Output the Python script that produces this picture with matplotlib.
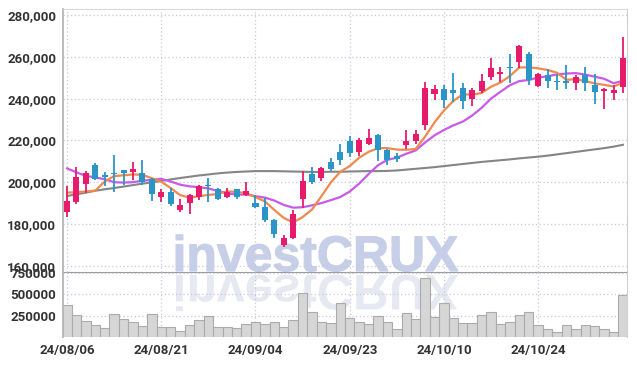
import matplotlib
matplotlib.use("Agg")
import matplotlib.pyplot as plt
from matplotlib.font_manager import FontProperties
from matplotlib.patches import PathPatch
from matplotlib.textpath import TextPath
from matplotlib.transforms import Affine2D
from matplotlib.ticker import FuncFormatter, FixedLocator

# daily candles, 24/08/06 .. 24/11/06 (KRX trading days)
opens = [185500, 190500, 199000, 208000, 203500, 204500, 206000, 205000, 204500, 201500,
         193000, 195500, 186500, 190000, 193000, 198500, 196500, 193000, 196500, 194000,
         190000, 188000, 182000, 170000, 173500, 192000, 204000, 202000, 209500, 214500,
         219500, 214500, 218500, 222500, 215500, 212500, 218000, 219500, 227500, 242000,
         244500, 244000, 245000, 240000, 243500, 250500, 252000, 255000, 257500, 261500,
         246000, 251500, 248500, 248500, 247500, 251500, 246500, 243500, 242500, 245500]
highs = [198000, 207500, 205500, 209000, 205000, 213000, 206000, 209500, 210500, 202000,
         196500, 197000, 192000, 194500, 198500, 202000, 197000, 197000, 196500, 200000,
         194000, 192500, 182500, 174500, 186500, 205500, 207500, 207500, 211500, 218500,
         222000, 221000, 225500, 223000, 216000, 214000, 225000, 225000, 248000, 246500,
         246500, 252500, 247500, 245000, 252000, 259500, 255000, 261500, 265500, 262500,
         252500, 254000, 252000, 256000, 251500, 255000, 252000, 245000, 246500, 269500]
lows = [183500, 189500, 195000, 201000, 198000, 195500, 198500, 201000, 198500, 191000,
        190500, 188500, 185500, 185000, 191500, 190500, 191500, 192500, 192000, 193500,
        187500, 181000, 173500, 169000, 173000, 187500, 199000, 200500, 205500, 208000,
        212000, 212500, 218000, 210000, 208000, 209500, 216000, 218500, 225000, 239500,
        235500, 238500, 235000, 236500, 242500, 249000, 248000, 247500, 254500, 246500,
        245500, 245000, 244000, 244500, 244000, 243500, 237500, 235000, 239500, 242500]
closes = [191000, 202500, 204500, 201500, 202500, 204000, 204500, 206500, 200000, 194500,
          195500, 189500, 189000, 194000, 198000, 198000, 192000, 195500, 193000, 196000,
          188000, 182000, 175000, 173500, 185000, 200500, 200000, 207000, 206500, 210500,
          214000, 220000, 221000, 215500, 210500, 211000, 219500, 223000, 245000, 244500,
          239500, 242500, 239000, 244000, 248500, 254500, 252500, 254500, 265000, 249000,
          252000, 248500, 248000, 247500, 250500, 247500, 243000, 244500, 244000, 259500]
volumes = [374000, 257000, 187000, 140000, 101000, 269000, 210000, 175000, 129000, 269000,
           113000, 113000, 70000, 140000, 199000, 245000, 113000, 113000, 101000, 148000,
           171000, 152000, 171000, 113000, 199000, 511000, 288000, 179000, 160000, 394000,
           226000, 171000, 148000, 245000, 171000, 90000, 277000, 210000, 686000, 237000,
           394000, 226000, 160000, 160000, 253000, 288000, 148000, 171000, 253000, 288000,
           137000, 90000, 62000, 137000, 90000, 137000, 125000, 90000, 62000, 491000]

# moving averages as drawn (5 / 10 / 60 day)
ma5 = [195000, 195200, 195500, 196000, 200300, 202900, 203300, 203700, 203500, 201900,
       200200, 197200, 193800, 192600, 193300, 193900, 194300, 195600, 195300, 194800,
       192800, 190800, 186700, 182900, 180700, 183300, 186900, 193300, 199900, 205000,
       207700, 211700, 214500, 216300, 216300, 215600, 215500, 215900, 221800, 228600,
       234300, 238900, 242100, 241900, 242700, 245700, 247700, 250800, 254900, 255000,
       254500, 253700, 252400, 249000, 249300, 248400, 247300, 246600, 245800, 247600]
ma10 = [206600, 204700, 203000, 202300, 201400, 200000, 199800, 200000, 200700, 201100,
        201600, 200300, 198800, 198000, 197600, 197000, 195800, 194700, 194000, 194100,
        193300, 192600, 191200, 189100, 187800, 188000, 188900, 190000, 191400, 192900,
        195500, 199300, 203900, 208100, 210700, 211700, 213600, 215200, 219000, 222400,
        225000, 227200, 229000, 231900, 235600, 240000, 243300, 246400, 248400, 248900,
        250100, 250700, 251600, 252000, 252200, 251500, 250500, 249500, 247400, 248500]
ma60 = [193400, 194200, 195000, 195900, 196600, 197200, 197900, 198600, 199300, 199900,
        200600, 201300, 202000, 202600, 203200, 203700, 204200, 204600, 204900, 205100,
        205300, 205300, 205300, 205200, 205100, 205000, 204900, 204900, 205000, 205000,
        205100, 205200, 205300, 205300, 205400, 205600, 206000, 206400, 206800, 207200,
        207700, 208200, 208700, 209200, 209700, 210100, 210500, 210900, 211400, 211800,
        212200, 212700, 213300, 213900, 214500, 215100, 215700, 216300, 217000, 217900]

date_ticks = [0, 10, 20, 30, 40, 50]
date_labels = ["24/08/06", "24/08/21", "24/09/04", "24/09/23", "24/10/10", "24/10/24"]
price_ticks = [160000, 180000, 200000, 220000, 240000, 260000, 280000]
volume_ticks = [250000, 500000, 750000]

UP = "#e61b6c"
DOWN = "#2c95c7"
GRID = "#c6c9dc"
TXT = "#333333"
FAMILY = ["Roboto", "DejaVu Sans"]

W, H = 637, 366
fig = plt.figure(figsize=(W / 100, H / 100), dpi=100)
fig.patch.set_facecolor("white")
ax = fig.add_axes([63 / W, (H - 272) / H, 564 / W, 263 / H])
axv = fig.add_axes([63 / W, (H - 337) / H, 564 / W, 65 / H], sharex=ax)

# watermark with mirrored reflection
fp = FontProperties(family="Liberation Sans", weight="bold")
tp = TextPath((0, 0), "investCRUX", size=50, prop=fp)
bb = tp.get_extents()
s = 282 / bb.width
x0 = 176 - bb.x0 * s
base = H - 271
fig.add_artist(PathPatch(tp, transform=Affine2D().scale(s).translate(x0, base),
                         fc="#c6cee8", ec="#c6cee8", lw=0.8, zorder=-5))
fig.add_artist(PathPatch(tp, transform=Affine2D().scale(s, -s).translate(x0, base - 4),
                         fc="#e7e9f2", ec="none", zorder=-5))

x = list(range(len(closes)))
colors = [UP if c >= o else DOWN for o, c in zip(opens, closes)]
bottoms = [min(o, c) for o, c in zip(opens, closes)]
heights = [max(abs(c - o), 600) for o, c in zip(opens, closes)]

ax.plot(x, ma60, color="#858585", lw=1.5, zorder=2)
ax.plot(x, ma10, color="#c95ae8", lw=1.6, zorder=2)
ax.plot(x, ma5, color="#f0894d", lw=1.6, zorder=2)
ax.vlines(x, lows, highs, colors=colors, lw=1.3, zorder=3)
ax.bar(x, heights, bottom=bottoms, width=0.64, color=colors, zorder=4)

axv.bar(x, volumes, width=1.0, color="#d6d6d6", edgecolor="#ababab", lw=0.8, zorder=2)

for a in (ax, axv):
    a.set_facecolor("none")
    a.tick_params(length=0, labelsize=9.5, labelcolor=TXT)
    a.grid(True, color=GRID, lw=0.9, ls=(0, (1, 2)), zorder=0)
    a.spines["left"].set_color("#b5b5b5")
    a.spines["left"].set_linewidth(1.3)
    a.spines["right"].set_color("#d0d0d0")
    a.spines["top"].set_color("#d8d8d8")

ax.set_xlim(-0.43, len(closes) - 0.57)
ax.set_ylim(157000, 282900)
ax.yaxis.set_major_locator(FixedLocator(price_ticks))
ax.yaxis.set_major_formatter(FuncFormatter(lambda v, p: f"{int(v):,}"))
ax.spines["bottom"].set_color("#9a9a9a")
ax.tick_params(axis="x", labelbottom=False)
ax.tick_params(axis="y", pad=5)

axv.set_ylim(0, 760000)
axv.yaxis.set_major_locator(FixedLocator(volume_ticks))
axv.yaxis.set_major_formatter(FuncFormatter(lambda v, p: f"{int(v)}"))
axv.set_xticks(date_ticks)
axv.set_xticklabels(date_labels)
axv.spines["bottom"].set_visible(False)
axv.spines["top"].set_visible(False)
axv.tick_params(axis="y", pad=5)
axv.tick_params(axis="x", pad=5)

for a in (ax, axv):
    for lab in a.get_yticklabels() + a.get_xticklabels():
        lab.set_family(FAMILY)
        lab.set_fontweight("bold")

fig.savefig("out.png", dpi=100)
